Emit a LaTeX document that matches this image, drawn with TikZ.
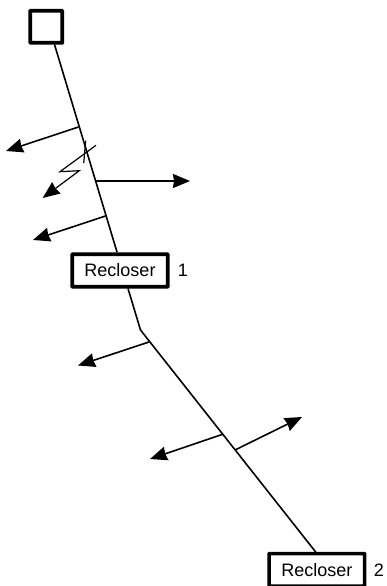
\documentclass[tikz,border=0pt]{standalone}
\usepackage{fontspec}
\setmainfont{Liberation Sans}
\usetikzlibrary{arrows.meta}
\begin{document}
\begin{tikzpicture}[x=1pt,y=-1pt,
  wire/.style={line width=1.6pt,black},
  branch/.style={line width=1.6pt,black,-{Stealth[length=17pt,width=14pt,inset=1pt]}},
  fault/.style={line width=1.2pt,black},
  txt/.style={font=\fontsize{18}{20}\selectfont,text=black,inner sep=0pt},
  box/.style={draw=black,line width=3.6pt,fill=white,rounded corners=0.5pt,minimum width=95.5pt,minimum height=32.5pt,inner sep=0pt,font=\fontsize{18}{20}\selectfont,text=black},
  source/.style={draw=black,line width=3.8pt,fill=white,rounded corners=0.5pt,minimum width=32pt,minimum height=32pt,inner sep=0pt}]
\useasboundingbox (0,0) rectangle (386,586);
\node[source] (src) at (46.3,26.8) {};
\node[box] (r1) at (120,270.5) {Recloser};
\node[box] (r2) at (316.9,569.8) {Recloser};
\node[txt] (l1) at (183,270) {1};
\node[txt] (l2) at (379,570) {2};
\coordinate (s0) at (54.5,44.5);
\coordinate (r1t) at (117,252);
\coordinate (r1b) at (128,288.5);
\coordinate (bend) at (140.5,330);
\coordinate (r2t) at (315.7,552);
\draw[wire] (s0) -- (r1t);
\draw[wire] (r1b) -- (bend) -- (r2t);
\coordinate (a1s) at (78.5,127); \coordinate (a1e) at (6,151);
\coordinate (a2s) at (95.5,181); \coordinate (a2e) at (190,181);
\coordinate (a3s) at (105.5,216); \coordinate (a3e) at (33,240);
\coordinate (a4s) at (149,342); \coordinate (a4e) at (78,365.5);
\coordinate (a5s) at (222,434.5); \coordinate (a5e) at (150,459);
\coordinate (a6s) at (235,450); \coordinate (a6e) at (302,417);
\draw[branch] (a1s) -- (a1e);
\draw[branch] (a2s) -- (a2e);
\draw[branch] (a3s) -- (a3e);
\draw[branch] (a4s) -- (a4e);
\draw[branch] (a5s) -- (a5e);
\draw[branch] (a6s) -- (a6e);
\coordinate (f1) at (96,145.3); \coordinate (f2) at (60,171.7);
\coordinate (f3) at (79.3,170.7); \coordinate (f4) at (42.7,198);
\coordinate (t1) at (85.7,140.7); \coordinate (t2) at (83.7,163);
\draw[fault,-{Stealth[length=17pt,width=14pt,inset=1pt]}] (f1) -- (f2) -- (f3) -- (f4);
\draw[fault] (t1) -- (t2);
\end{tikzpicture}
\end{document}
